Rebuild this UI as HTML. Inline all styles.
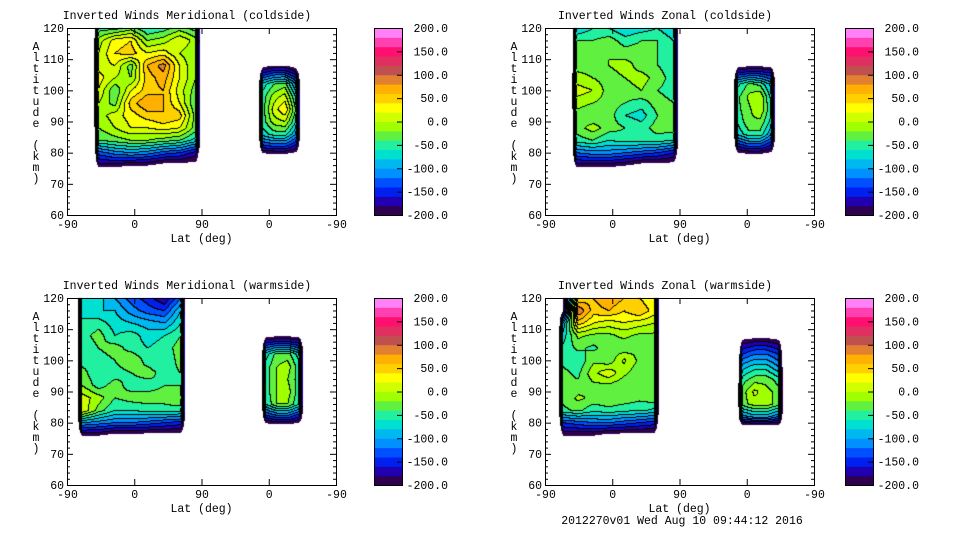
<!DOCTYPE html>
<html><head><meta charset="utf-8">
<style>
html,body{margin:0;padding:0;background:#fff;}
#wrap{position:relative;width:960px;height:540px;overflow:hidden;background:#fff;}
canvas,svg{position:absolute;left:0;top:0;}
text{font-family:"Liberation Mono","DejaVu Sans Mono",monospace;font-size:11.5px;fill:#000;}
</style></head>
<body>
<div id="wrap">
<canvas id="cv" width="960" height="540"></canvas>
<svg id="sv" width="960" height="540"></svg>
</div>
<script>
// ---- data ----
const levelTicks = ["200.0","150.0","100.0","50.0","0.0","-50.0","-100.0","-150.0","-200.0"];
const xTickLabels = ["-90","0","90","0","-90"];
const yTickLabels = ["120","110","100","90","80","70","60"];
const panelTitles = ["Inverted Winds Meridional (coldside)","Inverted Winds Zonal (coldside)","Inverted Winds Meridional (warmside)","Inverted Winds Zonal (warmside)"];
const leftAlts = [120,116,112,108,104,100,96,92,88,84,80,76];
const rightAlts = [106,102,98,94,90,86,82];
const p1Left = [
[-50,-50,-30,-60,-50,-30,-50],[-10,30,40,-20,-10,20,-10],[0,40,50,20,30,0,-20],[10,20,-30,60,90,20,-20],
[30,0,-20,50,70,20,-20],[20,-40,20,50,60,10,-30],[0,-30,50,80,60,20,-40],[-10,10,30,50,60,50,-30],
[-20,0,20,20,30,20,-30],[-40,-30,-20,-20,-30,-40,-70],[-130,-110,-100,-110,-130,-140,-170],[-190,-190,-200,-200,-215,-215,-215]];
const p1Right = [[-170,-150,-150,-180],[-70,-40,-30,-100],[-50,-10,10,-60],[-50,10,40,-40],[-50,-10,0,-60],[-70,-50,-50,-100],[-150,-140,-140,-170]];
const p2Left = [
[-80,-60,-60,-80,-70,-60,-80],[-40,-40,-30,-50,-40,-40,-60],[-30,-20,-20,-30,-30,-40,-60],[-30,-30,-20,-10,-30,-40,-50],
[-10,-20,-30,-20,-10,-30,-50],[10,0,-30,-30,-20,-40,-50],[-10,-20,-30,-40,-50,-30,-40],[-30,-40,-30,-60,-70,-40,-40],
[-30,-10,-30,-40,-50,-30,-30],[-50,-40,-60,-50,-50,-50,-60],[-120,-110,-110,-120,-130,-140,-160],[-190,-190,-190,-200,-215,-215,-215]];
const p2Right = [[-170,-160,-160,-170],[-65,-35,-45,-85],[-45,-15,0,-65],[-45,-25,0,-55],[-55,-25,-25,-65],[-75,-45,-45,-95],[-160,-140,-140,-170]];
const p3Left = [
[-60,-70,-100,-130,-150,-180,-120],[-60,-80,-80,-110,-130,-140,-80],[-60,-50,-70,-80,-90,-100,-60],[-50,-30,-60,-50,-70,-60,-40],
[-60,-40,-30,-50,-60,-50,-30],[-50,-50,-40,-20,-50,-60,-30],[-30,-60,-50,-40,-30,-50,-40],[-20,-50,-30,-50,-50,-40,-40],
[10,-10,-40,-30,-30,-30,-20],[20,-30,-60,-60,-50,-50,-50],[-100,-110,-120,-120,-130,-140,-150],[-200,-200,-215,-215,-215,-215,-215]];
const p3Right = [[-170,-160,-160,-170],[-70,-30,-30,-70],[-50,-20,-10,-50],[-50,-20,-20,-50],[-50,-20,-10,-50],[-60,-20,-20,-60],[-150,-130,-130,-160]];
const p4Left = [
[-200,40,60,80,60,40,20],[-200,100,50,60,40,60,30],[-100,50,20,10,20,10,0],[-70,-15,-25,-25,-15,-25,-25],
[-55,-35,-45,-25,-35,-25,-35],[-45,-55,-25,-35,5,-25,-35],[-35,-45,-5,15,-15,-35,-35],[-35,-35,-25,-25,-35,-35,-25],
[-35,-15,-25,-25,-25,-35,-25],[-45,-35,-55,-45,-55,-55,-65],[-140,-130,-120,-120,-130,-140,-150],[-200,-200,-200,-215,-215,-215,-215]];
const p4Right = [[-190,-180,-180,-190],[-140,-120,-120,-140],[-90,-70,-70,-100],[-50,-30,-30,-50],[-30,5,-10,-30],[-30,-10,-10,-30],[-110,-90,-90,-120]];
// block longitude extents (axis units 0..360)
const leftSpans = [[42,172],[42,172],[20,152],[24,146]];
const rightSpans = [[262,306],[258,302],[266,310],[264,312]];
const palette = ["#300050","#2000b0","#0020f0","#0050ff","#0090ff","#00b8f0","#00e0d0","#20f0a0","#60f040","#a0ff00",
"#d0ff00","#ffff00","#ffd000","#ffb000","#e08030","#c05050","#e03060","#ff1070","#ff40b0","#ff80f8"];

// ---- geometry ----
const panels = [
 {x0:67,y0:28,cb:374},{x0:545,y0:28,cb:845},{x0:67,y0:298,cb:374},{x0:545,y0:298,cb:845}];
const PW=269, PH=187, CBW=28;
const leftData=[p1Left,p2Left,p3Left,p4Left], rightData=[p1Right,p2Right,p3Right,p4Right];
const PADV=-235;

function buildBlock(v, alts, span, isLeft){
  const n=v[0].length, d=(span[1]-span[0])/(n-1);
  const us=[span[0]-7]; for(let i=0;i<n;i++) us.push(span[0]+i*d); us.push(span[1]+7);
  const mk=(r)=>[PADV,...r,PADV];
  const padRow=()=>us.map(()=>PADV);
  let as=[], rows=[];
  if(isLeft){ as.push(124); rows.push(mk(v[0])); }
  else { as.push(109.5); rows.push(padRow()); }
  alts.forEach((a,i)=>{as.push(a); rows.push(mk(v[i]));});
  if(isLeft){ as.push(74); rows.push(padRow()); }
  else { as.push(78.5); rows.push(padRow()); }
  return {us,as,rows};
}
function sample(b,u,a){
  const us=b.us, as=b.as;
  if(u<us[0]||u>us[us.length-1]||a>as[0]||a<as[as.length-1]) return -999;
  let i=0; while(i<us.length-2 && u>us[i+1]) i++;
  let j=0; while(j<as.length-2 && a<as[j+1]) j++;
  const tu=(u-us[i])/(us[i+1]-us[i]), ta=(as[j]-a)/(as[j]-as[j+1]);
  const r=b.rows;
  const v0=r[j][i]*(1-tu)+r[j][i+1]*tu, v1=r[j+1][i]*(1-tu)+r[j+1][i+1]*tu;
  return v0*(1-ta)+v1*ta;
}
function hex(c){return [parseInt(c.slice(1,3),16),parseInt(c.slice(3,5),16),parseInt(c.slice(5,7),16)];}
const pal=palette.map(hex);
const cv=document.getElementById('cv'), ctx=cv.getContext('2d');
const img=ctx.createImageData(960,540);
panels.forEach((p,k)=>{
  const blocks=[buildBlock(leftData[k],leftAlts,leftSpans[k],true),buildBlock(rightData[k],rightAlts,rightSpans[k],false)];
  const bins=[];
  for(let y=0;y<PH;y++){const row=[];for(let x=0;x<PW;x++){
    const u=x/PW*360, a=120-y/PH*60; let val=-999;
    for(const b of blocks){const s=sample(b,u,a); if(s>val) val=s;}
    row.push(val< -200?-1:Math.max(0,Math.min(19,Math.floor((val+200)/20))));
  } bins.push(row);}
  for(let y=0;y<PH;y++)for(let x=0;x<PW;x++){
    const bn=bins[y][x]; if(bn<0) continue;
    let c=pal[bn];
    const r=x+1<PW?bins[y][x+1]:bn, dn=y+1<PH?bins[y+1][x]:bn;
    if((r>=0&&r!==bn)||(dn>=0&&dn!==bn)) c=[0,0,0];
    const idx=((p.y0+y)*960+(p.x0+x))*4;
    img.data[idx]=c[0];img.data[idx+1]=c[1];img.data[idx+2]=c[2];img.data[idx+3]=255;
  }
});
ctx.putImageData(img,0,0);

// ---- axes ----
const NS='http://www.w3.org/2000/svg', sv=document.getElementById('sv');
function el(tag,attrs,parent){const e=document.createElementNS(NS,tag);for(const k in attrs)e.setAttribute(k,attrs[k]);(parent||sv).appendChild(e);return e;}
panels.forEach((p,k)=>{
  const g=el('g',{});
  
  
  const t=el('text',{x:p.x0+120,y:p.y0-9,'text-anchor':'middle'},g); t.textContent=panelTitles[k];
  
  
  const fr=el('rect',{x:p.x0+0.5,y:p.y0+0.5,width:PW,height:PH,fill:'none',stroke:'#000'},g);
  
  
  for(let a=60;a<=120;a+=2){
    const y=p.y0+(120-a)/60*PH+0.5, L=(a%10===0)?6:3;
    el('line',{x1:p.x0,x2:p.x0+L,y1:y,y2:y,stroke:'#000'},g);
    el('line',{x1:p.x0+PW-L,x2:p.x0+PW,y1:y,y2:y,stroke:'#000'},g);
  }
  yTickLabels.forEach((s,i)=>{
    const lb=el('text',{x:p.x0-3,y:p.y0+i*PH/6+4},g); lb.setAttribute('text-anchor','end'); lb.textContent=s;
    
    
  });
  xTickLabels.forEach((s,i)=>{
    const x=p.x0+i*PW/4+0.5;
    el('line',{x1:x,x2:x,y1:p.y0+PH,y2:p.y0+PH-6,stroke:'#000'},g);
    el('line',{x1:x,x2:x,y1:p.y0,y2:p.y0+6,stroke:'#000'},g);
    const lb=el('text',{x:x,y:p.y0+PH+13,'text-anchor':'middle'},g); lb.textContent=s;
    
    
  });
  const xt=el('text',{x:p.x0+PW/2,y:p.y0+PH+27,'text-anchor':'middle'},g); xt.textContent='Lat (deg)';
  
  
  const yt=el('text',{x:p.x0-31,y:p.y0+22,'text-anchor':'middle'},g);
  
  
  'Altitude (km)'.split('').forEach((ch,i)=>{const ts=el('tspan',{x:p.x0-31,dy:i===0?0:11},yt);ts.textContent=ch;});
  const cb=el('g',{},g);
  
  
  const bh=PH/palette.length;
  palette.forEach((c,i)=>{el('rect',{x:p.cb,y:p.y0+PH-(i+1)*bh,width:CBW,height:bh+0.5,fill:c},cb);});
  el('rect',{x:p.cb+0.5,y:p.y0+0.5,width:CBW,height:PH,fill:'none',stroke:'#000'},cb);
  levelTicks.forEach((s,i)=>{
    const y=p.y0+i*PH/8;
    el('line',{x1:p.cb+CBW-5,x2:p.cb+CBW,y1:y+0.5,y2:y+0.5,stroke:'#000'},cb);
    const lb=el('text',{x:p.cb+CBW+46,y:y+4,'text-anchor':'end'},cb); lb.textContent=s;
    
    
  });
});
const ft=el('text',{x:682,y:524,'text-anchor':'middle'}); ft.textContent='2012270v01 Wed Aug 10 09:44:12 2016';


</script>
</body></html>
